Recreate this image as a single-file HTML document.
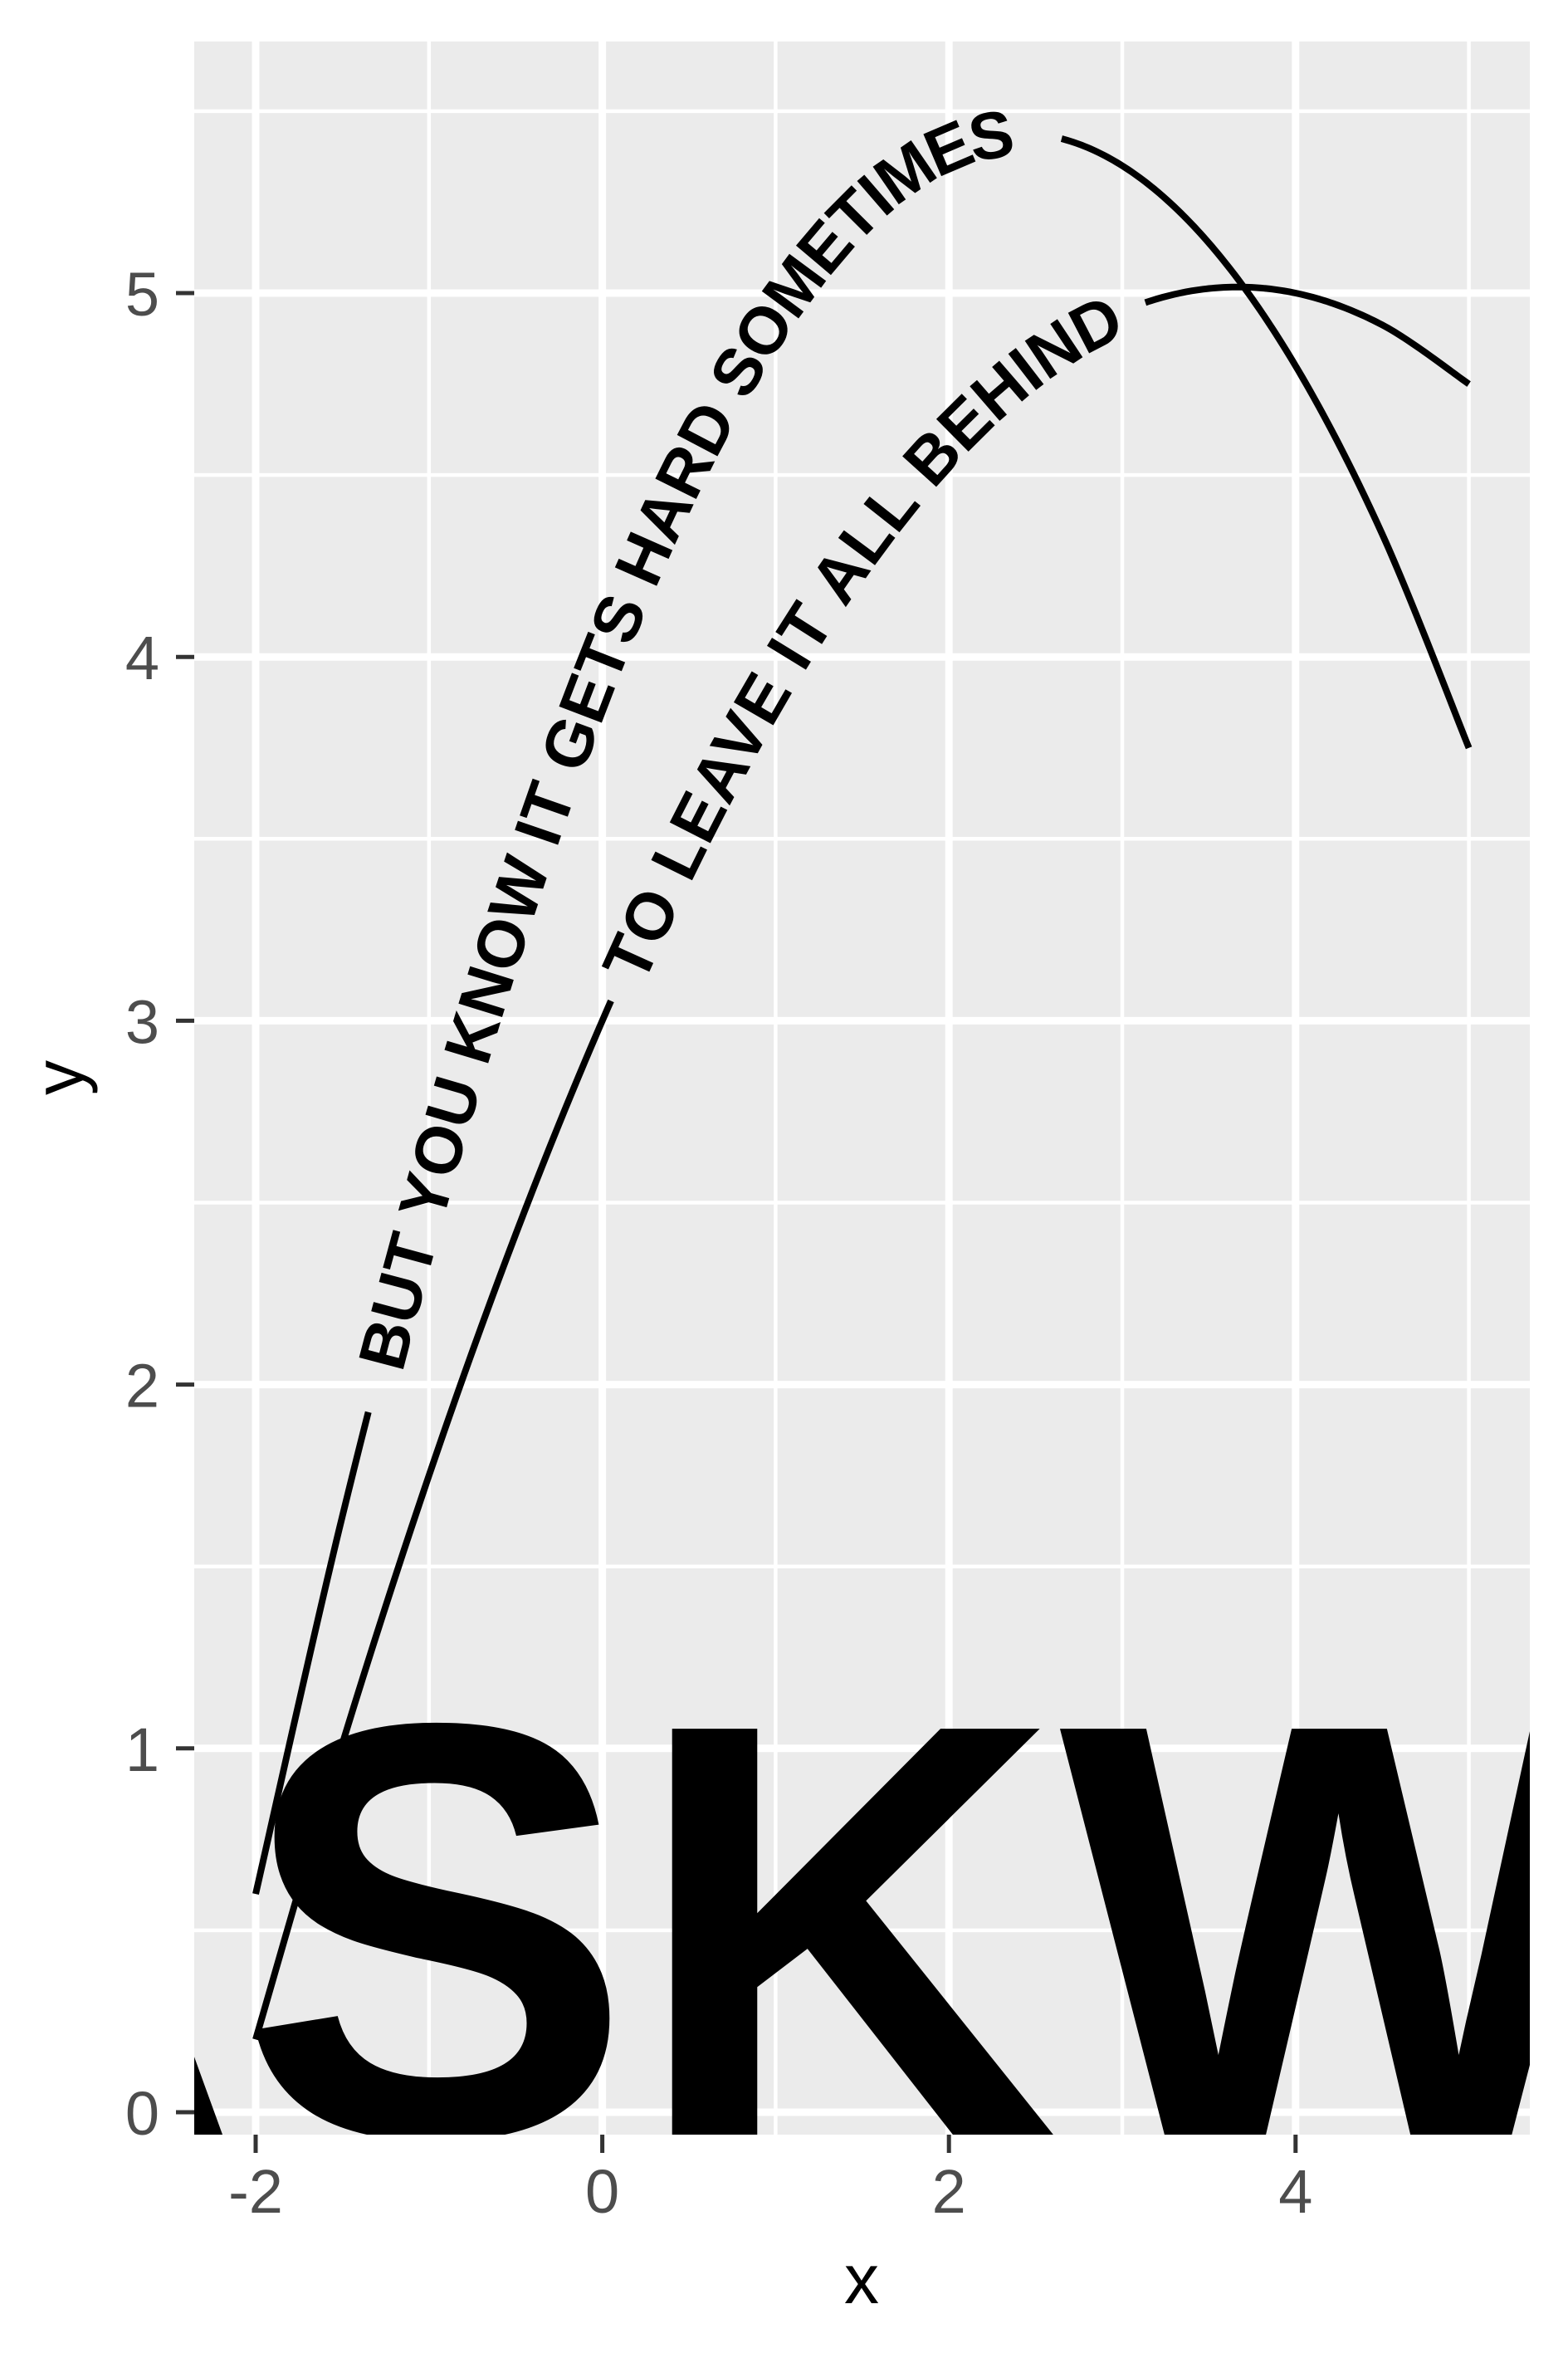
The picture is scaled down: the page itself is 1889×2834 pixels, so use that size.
<!DOCTYPE html>
<html><head><meta charset="utf-8"><style>
html,body{margin:0;padding:0;background:#fff;}
svg{display:block;}
</style></head><body>
<svg id="chart" width="1889" height="2834" viewBox="0 0 1889 2834" xmlns="http://www.w3.org/2000/svg" font-family="'Liberation Sans', Arial, sans-serif">
<defs><clipPath id="pc"><rect x="234" y="50" width="1609" height="2521"/></clipPath></defs>
<rect x="234" y="50" width="1609" height="2521" fill="#ebebeb"/>
<g id="grid"></g>
<g id="big" clip-path="url(#pc)">
<text x="-227" y="2572" font-size="712" font-weight="bold" fill="#000">ASKW</text>
</g>
<g id="series" clip-path="url(#pc)"></g>
<g id="axes"></g>
<text x="1038" y="2774" font-size="84" text-anchor="middle" fill="#000">x</text>
<text transform="translate(100,1298) rotate(-90)" font-size="84" text-anchor="middle" fill="#000">y</text>
</svg>
<script>
const xs = [-2,-1.5,-1,-0.5,0,0.5,1,1.5,2,2.5,3,3.5,4,4.5,5];
const y1 = [0.6,1.6375,2.55,3.3375,4,4.5375,4.95,5.2375,5.4,5.4375,5.35,5.1375,4.8,4.3375,3.75];
const y2 = [0.2,1.0125,1.75,2.4125,3,3.5125,3.95,4.3125,4.6,4.8125,4.95,5.0125,5,4.9125,4.75];
const label1 = "BUT YOU KNOW IT GETS HARD SOMETIMES";
const label2 = "TO LEAVE IT ALL BEHIND";
const gap1 = [-1.35, 2.64];
const gap2 = [0.05, 3.13];
const xTicks = [-2,0,2,4];
const xMinor = [-1,1,3,5];
const yTicks = [0,1,2,3,4,5];
const yMinor = [0.5,1.5,2.5,3.5,4.5,5.5];

const NS = "http://www.w3.org/2000/svg";
const L=234,R=1843,T=50,B=2571;
const sx = v => 308 + (v+2)*208.8;
const sy = v => 2544 - v*438.2;
function mk(tag, attrs, parent){const e=document.createElementNS(NS,tag);for(const k in attrs)e.setAttribute(k,attrs[k]);parent.appendChild(e);return e;}

const grid=document.getElementById('grid');
xMinor.forEach(v=>{const e=mk('line',{x1:sx(v),x2:sx(v),y1:T,y2:B,stroke:'#fff','stroke-width':4.5},grid);

});
yMinor.forEach(v=>{const e=mk('line',{x1:L,x2:R,y1:sy(v),y2:sy(v),stroke:'#fff','stroke-width':4.5},grid);

});
xTicks.forEach(v=>{const e=mk('line',{x1:sx(v),x2:sx(v),y1:T,y2:B,stroke:'#fff','stroke-width':9},grid);

});
yTicks.forEach(v=>{const e=mk('line',{x1:L,x2:R,y1:sy(v),y2:sy(v),stroke:'#fff','stroke-width':9},grid);

});

const axes=document.getElementById('axes');
xTicks.forEach(v=>{
 const t=mk('line',{x1:sx(v),x2:sx(v),y1:B,y2:B+22,stroke:'#333','stroke-width':5},axes);
 
 
 const l=mk('text',{x:sx(v),y:B+94,'font-size':74,'text-anchor':'middle',fill:'#4d4d4d'},axes);
 l.textContent=String(v);
 
 
});
yTicks.forEach(v=>{
 const t=mk('line',{x1:L-22,x2:L,y1:sy(v),y2:sy(v),stroke:'#333','stroke-width':5},axes);
 
 
 const l=mk('text',{x:192,y:sy(v)+27,'font-size':74,'text-anchor':'end',fill:'#4d4d4d'},axes);
 l.textContent=String(v);
 
 
});

function dense(X,Y){
 const pts=[];const n=X.length;
 for(let i=0;i<n-1;i++){
  const p0=i>0?i-1:i,p3=i+2<n?i+2:i+1;
  for(let s=0;s<30;s++){const t=s/30,t2=t*t,t3=t2*t;
   const f=(a,b,c,d)=>0.5*((2*b)+(-a+c)*t+(2*a-5*b+4*c-d)*t2+(-a+3*b-3*c+d)*t3);
   pts.push([f(X[p0],X[i],X[i+1],X[p3]),f(Y[p0],Y[i],Y[i+1],Y[p3])]);}
 }
 pts.push([X[n-1],Y[n-1]]);return pts;
}
function d(pts){return 'M'+pts.map(p=>sx(p[0]).toFixed(2)+','+sy(p[1]).toFixed(2)).join(' L');}
const series=document.getElementById('series');
let pid=0;
function drawCurve(Y,gap,label,name){
 const pts=dense(xs,Y);
 const a=pts.filter(p=>p[0]<=gap[0]), g=pts.filter(p=>p[0]>=gap[0]&&p[0]<=gap[1]), b=pts.filter(p=>p[0]>=gap[1]);
 [a,b].forEach(seg=>{const e=mk('path',{d:d(seg),fill:'none',stroke:'#000','stroke-width':8,'stroke-linecap':'butt','stroke-linejoin':'round'},series);
  
  });
 const id='tp'+(pid++);
 const gp=mk('path',{id:id,d:d(g),fill:'none',stroke:'none'},series);
 const len=gp.getTotalLength();
 const tx=mk('text',{'font-size':80,'font-weight':'bold',fill:'#000',dy:28},series);
 
 
 const tp=document.createElementNS(NS,'textPath');
 tp.setAttribute('href','#'+id);
 tp.setAttribute('startOffset',len*0.03);
 tp.setAttribute('textLength',len*0.94);
 tp.setAttribute('lengthAdjust','spacing');
 tp.textContent=label;
 tx.appendChild(tp);
}
drawCurve(y1,gap1,label1,'upper-curve');
drawCurve(y2,gap2,label2,'lower-curve');
</script>
</body></html>
